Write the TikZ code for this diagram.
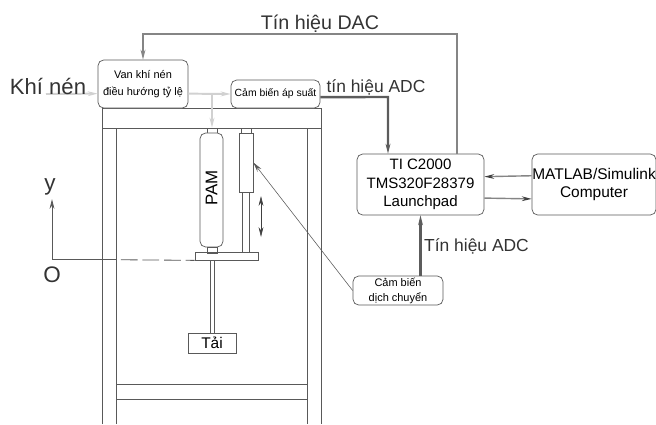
\documentclass[tikz,border=0pt]{standalone}
\usepackage{fontspec}
\setmainfont{Liberation Sans}
\usepackage{tikz}
\usetikzlibrary{positioning,arrows.meta,calc}
\definecolor{khigray}{gray}{0.82}
\definecolor{sigdark}{gray}{0.36}
\definecolor{siggray}{gray}{0.52}
\definecolor{framegray}{gray}{0.35}

\begin{document}
\begin{tikzpicture}[
  x=0.025cm, y=-0.025cm,
  >={Stealth[length=7pt,width=3.4pt]},
  blockbox/.style={draw=framegray, rounded corners=4pt, inner sep=0pt, align=center, line width=0.5pt},
  framepart/.style={draw=framegray, line width=0.6pt},
  partbox/.style={draw=framegray, inner sep=0pt, line width=0.5pt},
  khiline/.style={draw=khigray, line width=1.4pt},
  sigline/.style={draw=sigdark, line width=1.7pt},
  dacline/.style={draw=siggray, line width=1.8pt},
  pcline/.style={draw=siggray, line width=1pt, -{Stealth[length=7pt,width=3.4pt,color=black!75]}},
  biglabel/.style={font=\fontsize{12.4}{14}\selectfont, text=black!80, inner sep=0pt},
]
  \useasboundingbox (0,0) rectangle (656,424);

  % Frame
  \draw[framepart] (102,424) -- (102,108) -- (321,108) -- (321,424);
  \draw[framepart] (102,128) -- (321,128);
  \draw[framepart] (116,128) -- (116,424);
  \draw[framepart] (307,128) -- (307,424);
  \draw[framepart] (116,384) -- (307,384);
  \draw[framepart] (116,399) -- (307,399);

  % Blocks
  \node[blockbox, fill=white, minimum width=2.25cm, minimum height=1.2cm, font=\fontsize{7.8}{12.5}\selectfont] (van) at (143,84)
    {Van khí nén\\điều hướng tỷ lệ};
  \node[blockbox, fill=white, minimum width=2.225cm, minimum height=0.7cm, font=\fontsize{7.4}{9}\selectfont] (apsuat) at (275.5,94)
    {Cảm biến áp suất};
  \node[blockbox, minimum width=3.175cm, minimum height=1.525cm, font=\fontsize{10.7}{13.2}\selectfont] (ti) at (420.5,184.5)
    {TI C2000\\TMS320F28379\\Launchpad};
  \node[blockbox, minimum width=3.1cm, minimum height=1.525cm, font=\fontsize{11}{13}\selectfont] (matlab) at (594,184.5)
    {MATLAB/Simulink\\Computer};
  \node[blockbox, fill=white, minimum width=2.25cm, minimum height=0.725cm, font=\fontsize{7.8}{10.7}\selectfont] (dich) at (398,290.5)
    {Cảm biến\\dịch chuyển};

  % PAM and rod
  \node[partbox, minimum width=0.25cm, minimum height=0.125cm] (pamtop) at (212,130.5) {};
  \node[partbox, rounded corners=4pt, fill=white, minimum width=0.575cm, minimum height=2.85cm] (pam) at (211.5,190)
    {\rotatebox{90}{\fontsize{12}{14}\selectfont\hspace*{3pt}PAM}};
  \node[partbox, minimum width=0.25cm, minimum height=0.15cm] (pambot) at (212,250) {};
  \node[partbox, minimum width=1.575cm, minimum height=0.2cm] (plate) at (226.5,256) {};
  \node[partbox, minimum width=0.1cm, minimum height=1.825cm] (rod) at (212,296.5) {};
  \node[partbox, minimum width=1.2cm, minimum height=0.5cm, font=\fontsize{11}{13}\selectfont] (tai) at (212,343) {Tải};

  % Displacement sensor
  \node[partbox, minimum width=0.25cm, minimum height=0.125cm] (dichtop) at (246,130.5) {};
  \node[partbox, minimum width=0.35cm, minimum height=1.475cm] (dichcyl) at (246,162.5) {};
  \node[partbox, minimum width=0.175cm, minimum height=1.5cm] (dichrod) at (246,222) {};

  % Travel arrow
  \coordinate (travelup) at (261,196);
  \coordinate (traveldn) at (261,237);
  \draw[<->, draw=black!75, line width=0.4pt] (travelup) -- (traveldn);
  \draw[->, draw=framegray, line width=0.4pt] (dich.west) -- (dichcyl.east);

  % Air lines
  \coordinate (khistart) at (46,94);
  \coordinate (khinhanh) at (212,94);
  \draw[->, khiline] (khistart) -- (van.192.5);
  \draw[->, khiline] (van.-12.5) -- (apsuat.west);
  \draw[->, khiline] (khinhanh) -- (pamtop.north -| khinhanh);

  % Signals
  \coordinate (dacgoc) at (457,34);
  \coordinate (adcgoc) at (388,97);
  \draw[->, dacline] (dacgoc |- ti.north) -- (dacgoc) -| (van.north);
  \draw[->, sigline] (apsuat.-4) -- (adcgoc) -- (adcgoc |- ti.north);
  \draw[->, sigline] (ti.south |- dich.north) -- (ti.south);
  \draw[pcline] (matlab.172.2) -- (ti.7.6);
  \draw[pcline] (ti.-12.9) -- (matlab.193.2);

  % Axis
  \coordinate (goc) at (52,259.7);
  \coordinate (yend) at (52,199);
  \coordinate (nethet) at (116,259.7);
  \draw[->, draw=framegray, line width=0.6pt] (goc) -- (yend);
  \draw[draw=framegray, line width=0.6pt] (goc) -- (nethet);
  \draw[draw=framegray, line width=0.6pt, dash pattern=on 0.42cm off 0.12cm, dash phase=0.42cm] (nethet) -- (plate.south west);

  % Labels
  \node[biglabel, font=\fontsize{16}{18}\selectfont] (ylab) at (50,187) {y};
  \node[biglabel, font=\fontsize{16}{18}\selectfont] (olab) at (52,275) {O};
  \node[biglabel, font=\fontsize{15.7}{18}\selectfont] (khilab) at (48,86) {Khí nén};
  \node[biglabel, font=\fontsize{14}{16}\selectfont] (daclab) at (320,24) {Tín hiệu DAC};
  \node[biglabel] (adclab) at (376,87) {tín hiệu ADC};
  \node[biglabel] (adclabb) at (476.5,246) {Tín hiệu ADC};
\end{tikzpicture}
\end{document}
